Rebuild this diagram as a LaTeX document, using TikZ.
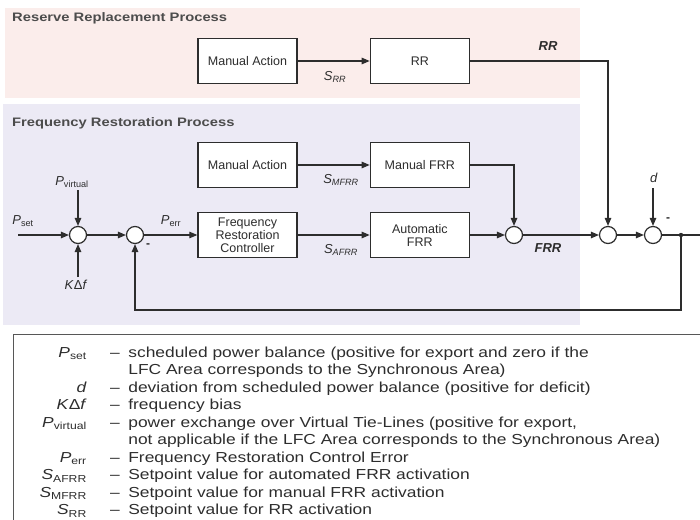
\documentclass[tikz,border=0pt]{standalone}
\usepackage{fontspec}
\setmainfont{Liberation Sans}
\newfontfamily\widefont[FakeStretch=1.2]{Liberation Sans}
\usetikzlibrary{arrows.meta, positioning}
\definecolor{rrpink}{RGB}{251,237,235}
\definecolor{frlav}{RGB}{236,234,245}
\definecolor{ink}{RGB}{45,45,45}
\newcommand{\sym}[2]{\textit{#1}\textsubscript{#2}}

\begin{document}
\begin{tikzpicture}[x=1pt, y=-1pt,
        block/.style={draw=ink, line width=1.3pt, rectangle, fill=white, minimum width=99pt, minimum height=45pt, align=center, font=\fontsize{12.5}{13}\selectfont, text=ink},
        sum/.style={draw=ink, line width=1.2pt, circle, fill=white, minimum size=17pt, inner sep=0pt},
        lbl/.style={font=\fontsize{13}{14}\selectfont, text=ink, inner sep=0pt},
        title/.style={font=\widefont\bfseries\fontsize{12.3}{14}\selectfont, text=ink!85, anchor=west, inner sep=0pt},
        legend/.style={font=\widefont\fontsize{14.5}{17.5}\selectfont, text=ink, inner sep=0pt},
        arrow/.style={line width=1.1pt, draw=ink, -{Triangle[length=8pt, width=6.5pt]}}
    ]
        \useasboundingbox (0,0) rectangle (700,519);
        \clip (0,0) rectangle (700,519);

        % process areas
        \fill[rrpink] (5,8) rectangle (580,98);
        \fill[frlav] (3,104) rectangle (580,325);
        \node[title] (rrtitle) at (12,18) {Reserve Replacement Process};
        \node[title] (frtitle) at (12,123) {Frequency Restoration Process};

        % blocks
        \node[block] (rrman) at (247.5,61) {Manual Action};
        \node[block, right=72pt of rrman] (rr) {RR};
        \node[block] (frman) at (247.5,165) {Manual Action};
        \node[block, right=72pt of frman] (mfrr) {Manual FRR};
        \node[block] (frc) at (247.5,235) {Frequency\\Restoration\\Controller};
        \node[block, right=72pt of frc] (afrr) {Automatic\\FRR};

        % summing points
        \node[sum] (s1) at (78,235) {};
        \node[sum] (s2) at (135,235) {};
        \node[sum] (sfrr) at (514,235) {};
        \node[sum] (s3) at (608,235) {};
        \node[sum] (s4) at (653,235) {};
        \coordinate (tap) at (681,235);
        \fill[ink] (tap) circle (2.2pt);
        \coordinate (out) at (708,235);
        \coordinate (psetin) at (18,235);
        \coordinate (pvirtin) at (78,190);
        \coordinate (kdfin) at (78,277);
        \coordinate (din) at (653,188);

        % labels
        \node[lbl] (psetlbl) at (23,221) {\sym{P}{set}};
        \node[lbl] (pvirtlbl) at (72,182) {\sym{P}{virtual}};
        \node[lbl] (kdflbl) at (76,285) {\textit{K}Δ\textit{f}};
        \node[lbl] (perrlbl) at (171,221) {\sym{P}{err}};
        \node[lbl] (srrlbl) at (335,77) {\textit{S}\textsubscript{\textit{RR}}};
        \node[lbl] (smfrrlbl) at (341,180) {\textit{S}\textsubscript{\textit{MFRR}}};
        \node[lbl] (safrrlbl) at (341,250) {\textit{S}\textsubscript{\textit{AFRR}}};
        \node[lbl, font=\bfseries\itshape\fontsize{13}{14}\selectfont] (rrlbl) at (548,46) {RR};
        \node[lbl, font=\bfseries\itshape\fontsize{13}{14}\selectfont] (frrlbl) at (548,248) {FRR};
        \node[lbl] (dlbl) at (654,178) {\textit{d}};
        \node[lbl, font=\bfseries\fontsize{12}{14}\selectfont] (minus2) at (148,246) {-};
        \node[lbl, font=\bfseries\fontsize{12}{14}\selectfont] (minus4) at (668,220) {-};

        % connectors
        \draw[arrow] (psetin) -- (s1);
        \draw[arrow] (pvirtin) -- (s1);
        \draw[arrow] (kdfin) -- (s1);
        \draw[arrow] (s1) -- (s2);
        \draw[arrow] (s2) -- (frc);
        \draw[arrow] (rrman) -- (rr);
        \draw[arrow] (frman) -- (mfrr);
        \draw[arrow] (frc) -- (afrr);
        \draw[arrow] (afrr) -- (sfrr);
        \draw[arrow] (mfrr) -| (sfrr);
        \draw[arrow] (sfrr) -- (s3);
        \draw[arrow] (rr) -| (s3);
        \draw[arrow] (s3) -- (s4);
        \draw[arrow] (din) -- (s4);
        \draw[arrow] (s4) -- (out);
        \draw[arrow] (tap) -- ++(0,75) -| (s2);

        % legend
        \draw[line width=1pt, draw=ink!80] (13,334) rectangle (712,530);
        \node[legend, anchor=north east] (legsym) at (87,345) {\begin{tabular}{@{}r@{}}
            \sym{P}{set}\\ \\ \textit{d}\\ \textit{K}Δ\textit{f}\\ \sym{P}{virtual}\\ \\
            \sym{P}{err}\\ \sym{S}{AFRR}\\ \sym{S}{MFRR}\\ \sym{S}{RR}
        \end{tabular}};
        \node[legend, anchor=north west] (legtxt) at (110,345) {\begin{tabular}{@{}l@{\hspace{8.5pt}}l@{}}
            – & scheduled power balance (positive for export and zero if the\\
              & LFC Area corresponds to the Synchronous Area)\\
            – & deviation from scheduled power balance (positive for deficit)\\
            – & frequency bias\\
            – & power exchange over Virtual Tie-Lines (positive for export,\\
              & not applicable if the LFC Area corresponds to the Synchronous Area)\\
            – & Frequency Restoration Control Error\\
            – & Setpoint value for automated FRR activation\\
            – & Setpoint value for manual FRR activation\\
            – & Setpoint value for RR activation
        \end{tabular}};
    \end{tikzpicture}
\end{document}
